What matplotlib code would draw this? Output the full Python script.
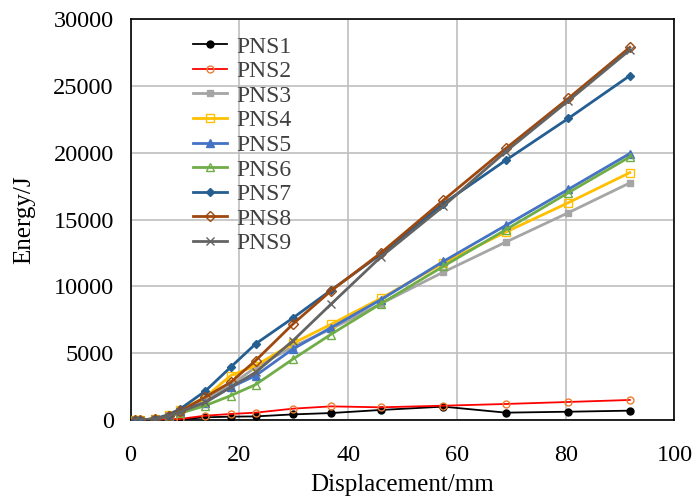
import matplotlib
matplotlib.use('Agg')
import matplotlib.pyplot as plt

# displacement (mm) shared by all series
disp = [0.8, 1.8, 4.5, 7.0, 9.1, 13.7, 18.4, 23.0, 29.9, 36.8, 46.0, 57.5, 69.0, 80.5, 91.8]

pns1 = [0, 0, 0, 20, 50, 200, 250, 270, 420, 520, 750, 1000, 550, 620, 700]
pns2 = [0, 0, 0, 30, 80, 320, 450, 550, 850, 1020, 950, 1070, 1200, 1350, 1500]
pns3 = [0, 0, 80, 320, 700, 1500, 2600, 3950, 5500, 6800, 8700, 11070, 13320, 15520, 17750]
pns4 = [0, 0, 80, 350, 750, 1700, 3320, 4070, 5750, 7150, 9100, 11750, 14070, 16270, 18520]
pns5 = [0, 0, 80, 300, 650, 1300, 2450, 3320, 5330, 6900, 9000, 11870, 14570, 17270, 19950]
pns6 = [0, 0, 80, 250, 500, 1070, 1820, 2650, 4570, 6400, 8700, 11500, 14250, 17020, 19700]
pns7 = [0, 0, 100, 400, 820, 2150, 3950, 5700, 7650, 9700, 12400, 16200, 19450, 22580, 25780]
pns8 = [0, 0, 80, 300, 650, 1700, 2820, 4450, 7200, 9650, 12500, 16450, 20330, 24080, 27900]
pns9 = [0, 0, 80, 300, 600, 1320, 2450, 3570, 5950, 8650, 12200, 16000, 20100, 23900, 27700]

labels = ['PNS1', 'PNS2', 'PNS3', 'PNS4', 'PNS5', 'PNS6', 'PNS7', 'PNS8', 'PNS9']

plt.rcParams['font.family'] = ['Liberation Serif', 'DejaVu Serif']

fig = plt.figure(figsize=(6.92, 5), dpi=100)
ax = fig.add_axes([0.1886, 0.16, 0.786, 0.8014])

# (color, marker, markerface, markeredge, size, linewidth)
styles = [
    ('#000000', 'o', '#000000', '#000000', 5, 1.3),
    ('#FF0000', 'o', 'none', '#ED7D31', 5, 1.3),
    ('#A5A5A5', 's', '#A5A5A5', '#A5A5A5', 5, 2.0),
    ('#FFC000', 's', 'none', '#FFC000', 6, 2.0),
    ('#4472C4', '^', '#4472C4', '#4472C4', 6, 2.0),
    ('#70AD47', '^', 'none', '#70AD47', 6, 2.0),
    ('#255E91', 'D', '#255E91', '#255E91', 4, 2.0),
    ('#9E480E', 'D', 'none', '#9E480E', 5, 2.0),
    ('#636363', 'x', '#636363', '#636363', 6, 2.0),
]

series = [pns1, pns2, pns3, pns4, pns5, pns6, pns7, pns8, pns9]
for vals, lab, st in zip(series, labels, styles):
    c, m, fc, ec, ms, lw = st
    ax.plot(disp, vals, color=c, marker=m, markerfacecolor=fc, markeredgecolor=ec,
            markersize=ms, linewidth=lw, label=lab, zorder=3)

ax.set_xlim(0, 100)
ax.set_ylim(0, 30000)
ax.set_xticks(range(0, 101, 20))
ax.set_yticks(range(0, 30001, 5000))
ax.grid(True, color='#BFBFBF', linewidth=1.2)
ax.set_axisbelow(True)
ax.tick_params(length=0, labelsize=17.5)
ax.tick_params(axis='x', pad=18)
ax.tick_params(axis='y', pad=12)
for s in ax.spines.values():
    s.set_color('black')
    s.set_linewidth(1.2)

ax.set_xlabel('Displacement/mm', fontsize=18, labelpad=6)
ax.set_ylabel('Energy/J', fontsize=18, labelpad=13)

leg = ax.legend(loc='upper left', bbox_to_anchor=(193 / 692, 1 - 36 / 500),
                bbox_transform=fig.transFigure, frameon=False, fontsize=17,
                borderpad=0, borderaxespad=0, labelspacing=0.13,
                handlelength=1.45, handletextpad=0.4)
for t in leg.get_texts():
    t.set_color('#404040')

fig.savefig('out.png', dpi=100)
